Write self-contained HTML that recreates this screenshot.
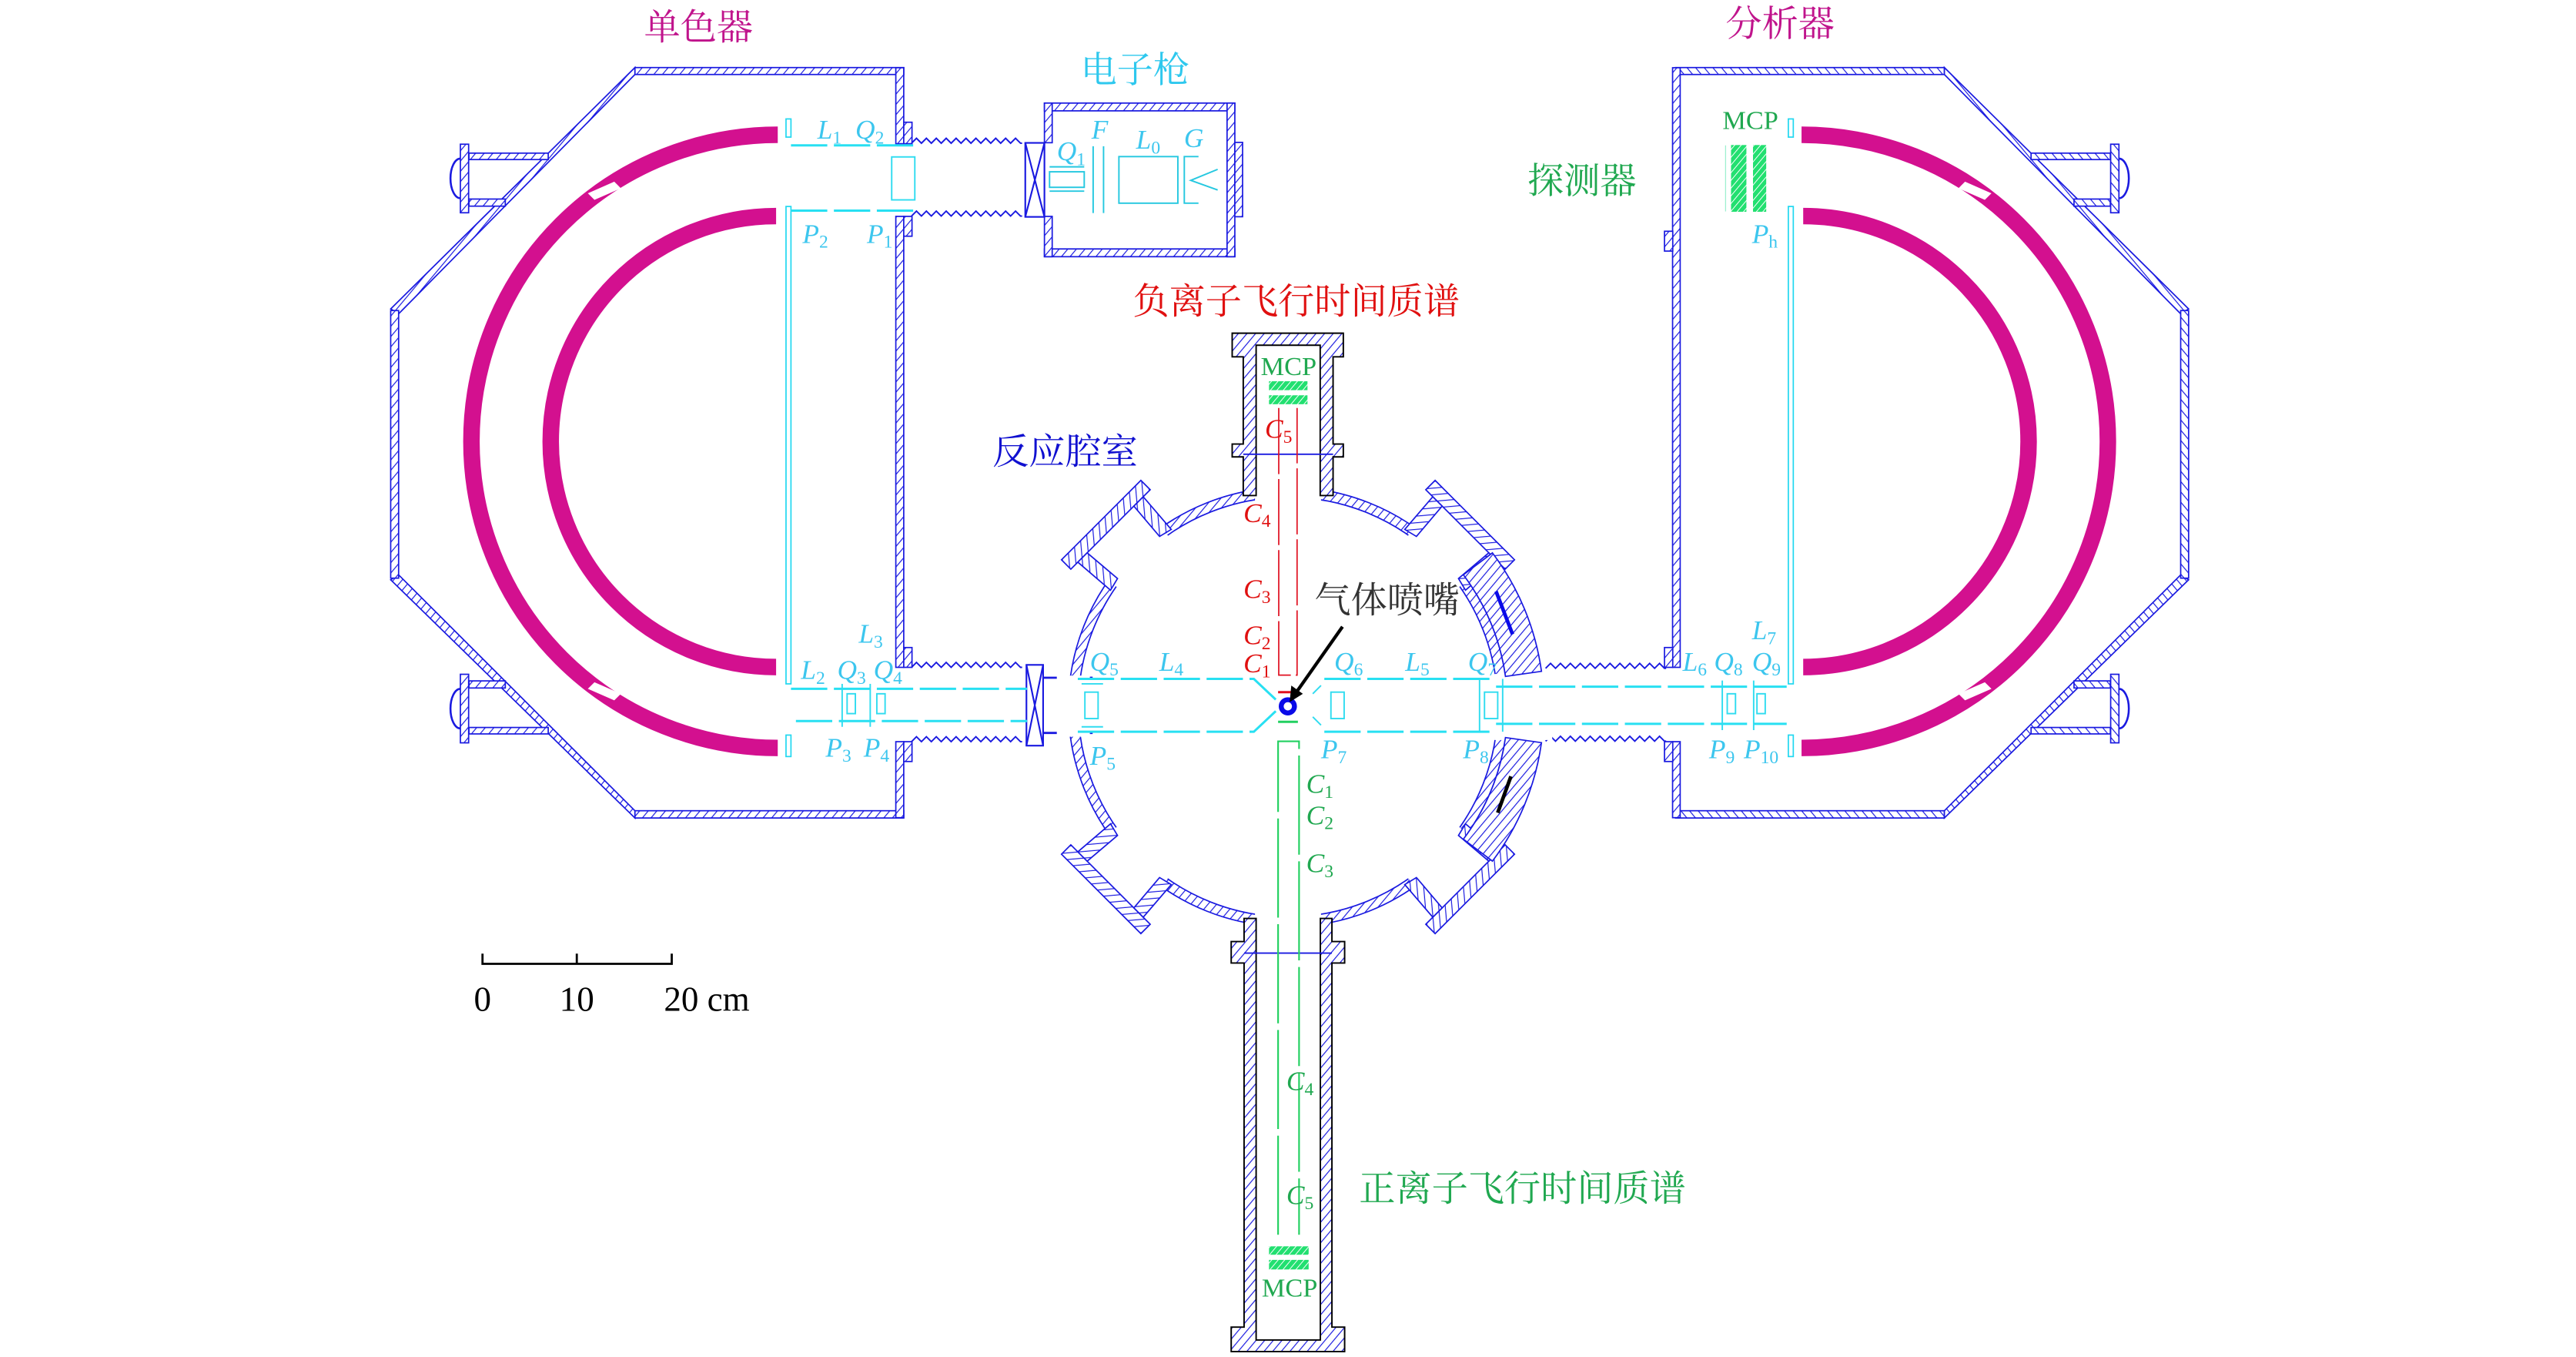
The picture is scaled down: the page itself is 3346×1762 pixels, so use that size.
<!DOCTYPE html>
<html><head><meta charset="utf-8">
<style>
html,body{margin:0;padding:0;background:#fff;width:3346px;height:1762px;overflow:hidden}
svg{display:block}
.cj{font-family:"Noto Serif CJK SC","Liberation Serif",serif}
.lb{font-family:"Liberation Serif",serif;font-style:italic;fill:#3cc6ee;font-size:16.5px}
.sb{font-style:normal;font-size:11px}
</style></head><body>
<svg width="3346" height="1762" viewBox="0 0 1560 821.5" preserveAspectRatio="none" xmlns="http://www.w3.org/2000/svg">
<defs>
<pattern id="h" patternUnits="userSpaceOnUse" width="4" height="4" patternTransform="rotate(40)">
<rect width="4" height="4" fill="#fff"/><line x1="0" y1="0" x2="0" y2="4" stroke="#1a1ae0" stroke-width="1.1"/></pattern>
<pattern id="g" patternUnits="userSpaceOnUse" width="3" height="3" patternTransform="rotate(40)">
<rect width="3" height="3" fill="#22e070"/><line x1="0" y1="0" x2="0" y2="3" stroke="#fff" stroke-width="0.9"/></pattern>
<g id="box">
 <rect x="384.5" y="40.9" width="162.8" height="4.2" fill="url(#h)" stroke="#1a1ae0" stroke-width="0.8"/>
 <rect x="384.5" y="490.8" width="162.8" height="4.4" fill="url(#h)" stroke="#1a1ae0" stroke-width="0.8"/>
 <polygon points="236.6,187 384.5,40.9 384.5,45.1 241.4,190 " fill="url(#h)" stroke="#1a1ae0" stroke-width="0.8"/>
 <polygon points="236.6,351 384.5,495.2 384.5,490.8 241.4,348" fill="url(#h)" stroke="#1a1ae0" stroke-width="0.8"/>
 <rect x="236.6" y="188" width="4.8" height="162" fill="url(#h)" stroke="#1a1ae0" stroke-width="0.8"/>
 <rect x="284" y="92.7" width="48" height="3.9" fill="url(#h)" stroke="#1a1ae0" stroke-width="0.8"/>
 <rect x="284" y="120.5" width="22" height="4.3" fill="url(#h)" stroke="#1a1ae0" stroke-width="0.8"/>
 <rect x="278.8" y="87.3" width="5" height="41.5" fill="url(#h)" stroke="#1a1ae0" stroke-width="0.8"/>
 <path d="M278.8,96 A6,12 0 0 0 278.8,120" fill="none" stroke="#1a1ae0" stroke-width="1.2"/>
 <rect x="284" y="440.4" width="48" height="3.9" fill="url(#h)" stroke="#1a1ae0" stroke-width="0.8"/>
 <rect x="284" y="412.2" width="22" height="4.3" fill="url(#h)" stroke="#1a1ae0" stroke-width="0.8"/>
 <rect x="278.8" y="408.2" width="5" height="41.5" fill="url(#h)" stroke="#1a1ae0" stroke-width="0.8"/>
 <path d="M278.8,417 A6,12 0 0 0 278.8,441" fill="none" stroke="#1a1ae0" stroke-width="1.2"/>
 <path d="M471,81.6 A185.6,185.6 0 0 0 471,452.8" fill="none" stroke="#d3108f" stroke-width="10"/>
 <path d="M470,130.8 A136.5,136.5 0 0 0 470,403.8" fill="none" stroke="#d3108f" stroke-width="10"/>
 <polygon points="356,117 372,110 376,114 360,121" fill="#fff"/>
 <polygon points="356,417 372,424 376,420 360,413" fill="#fff"/>
 <rect x="476" y="72" width="3" height="11" fill="none" stroke="#22d8f0" stroke-width="0.8"/>
 <rect x="476" y="125" width="3" height="289" fill="none" stroke="#22d8f0" stroke-width="0.8"/>
 <rect x="476" y="445" width="3" height="13" fill="none" stroke="#22d8f0" stroke-width="0.8"/>
</g>
<g id="bump">
 <rect x="758" y="285" width="44" height="20" fill="#fff"/>
 <rect x="746" y="268" width="68" height="8" fill="url(#h)" stroke="#1a1ae0" stroke-width="0.8"/>
 <polygon points="752,276 760,276 762,300 754,302" fill="url(#h)" stroke="#1a1ae0" stroke-width="0.8"/>
 <polygon points="800,276 808,276 806,302 798,300" fill="url(#h)" stroke="#1a1ae0" stroke-width="0.8"/>
</g>
</defs>

<use href="#box"/>
<g fill="url(#h)" stroke="#1a1ae0" stroke-width="0.8">
 <rect x="542.5" y="41" width="4.8" height="46"/><rect x="547.3" y="74" width="5" height="13"/>
 <rect x="542.5" y="131" width="4.8" height="273"/><rect x="547.3" y="131" width="5" height="12"/>
 <rect x="547.3" y="392" width="5" height="12"/>
 <rect x="542.5" y="449" width="4.8" height="46"/><rect x="547.3" y="449" width="5" height="12"/>
</g>
<g transform="translate(1562,0) scale(-1,1)"><use href="#box"/></g>
<g fill="url(#h)" stroke="#1a1ae0" stroke-width="0.8">
 <rect x="1012.9" y="41" width="4.6" height="363"/><rect x="1008" y="140" width="5" height="12"/>
 <rect x="1008" y="392" width="5" height="12"/>
 <rect x="1012.9" y="449" width="4.6" height="46"/><rect x="1008" y="449" width="5" height="12"/>
</g>
<rect x="1048.3" y="87.8" width="9.3" height="40.4" fill="url(#g)"/>
<rect x="1061.6" y="87.8" width="8" height="40.4" fill="url(#g)"/>
<line x1="1045" y1="88" x2="1045" y2="128" stroke="#9ef0d0" stroke-width="0.6"/>

<g fill="url(#h)" stroke="#1a1ae0" stroke-width="0.8">
 <rect x="632.5" y="62.4" width="115.3" height="4.7"/>
 <rect x="632.5" y="150.7" width="115.3" height="4.7"/>
 <rect x="632.5" y="62.4" width="4.7" height="24"/>
 <rect x="632.5" y="131" width="4.7" height="24.4"/>
 <rect x="743.1" y="62.4" width="4.7" height="93"/>
 <rect x="747.8" y="86.2" width="4.7" height="45"/>
</g>
<g fill="none" stroke="#1a1ae0" stroke-width="1">
 <rect x="620.9" y="86.5" width="11.6" height="44.8"/>
 <path d="M620.9,86.5 L632.5,131.3 M632.5,86.5 L620.9,131.3"/>
 <rect x="621.6" y="402.5" width="10.1" height="48.9"/>
 <path d="M621.6,402.5 L631.7,451.4 M631.7,402.5 L621.6,451.4"/>
</g>
<g fill="none" stroke="#26c8e0" stroke-width="0.9">
 <rect x="635.6" y="104" width="21" height="9.4"/>
 <line x1="635.6" y1="101" x2="656.6" y2="101"/><line x1="635.6" y1="115.7" x2="656.6" y2="115.7"/>
 <line x1="662" y1="88.5" x2="662" y2="129"/><line x1="668.3" y1="88.5" x2="668.3" y2="129"/>
 <rect x="677.6" y="94.8" width="35.7" height="28.2"/>
 <path d="M725.8,94.8 H717.2 V123 H725.8 M737.4,102.5 L721.1,109.2 L737.4,115"/>
</g>
<g fill="none" stroke="#1a1ae0" stroke-width="0.9">
<path d="M552,86.7 l3,-3 3,3 3,-3 3,3 3,-3 3,3 3,-3 3,3 3,-3 3,3 3,-3 3,3 3,-3 3,3 3,-3 3,3 3,-3 3,3 3,-3 3,3 3,-3 3,3 h1"/>
<path d="M552,130.8 l3,-3 3,3 3,-3 3,3 3,-3 3,3 3,-3 3,3 3,-3 3,3 3,-3 3,3 3,-3 3,3 3,-3 3,3 3,-3 3,3 3,-3 3,3 3,-3 3,3 h1"/>
<path d="M552,404 l3,-3 3,3 3,-3 3,3 3,-3 3,3 3,-3 3,3 3,-3 3,3 3,-3 3,3 3,-3 3,3 3,-3 3,3 3,-3 3,3 3,-3 3,3 3,-3 3,3 h1"/>
<path d="M552,449 l3,-3 3,3 3,-3 3,3 3,-3 3,3 3,-3 3,3 3,-3 3,3 3,-3 3,3 3,-3 3,3 3,-3 3,3 3,-3 3,3 3,-3 3,3 3,-3 3,3 h1"/>
<path d="M936,404.6 l3,-3 3,3 3,-3 3,3 3,-3 3,3 3,-3 3,3 3,-3 3,3 3,-3 3,3 3,-3 3,3 3,-3 3,3 3,-3 3,3 3,-3 3,3 3,-3 3,3 3,-3 3,3 h1"/>
<path d="M936,448.7 l3,-3 3,3 3,-3 3,3 3,-3 3,3 3,-3 3,3 3,-3 3,3 3,-3 3,3 3,-3 3,3 3,-3 3,3 3,-3 3,3 3,-3 3,3 3,-3 3,3 3,-3 3,3 h1"/>
 <path d="M631.7,410.3 H661.7 M631.7,443.7 H661.7" stroke-width="1.3"/>
</g>

<path fill-rule="evenodd" fill="url(#h)" stroke="#1a1ae0" stroke-width="0.8"
 d="M647,428 a133,133 0 1,0 266,0 a133,133 0 1,0 -266,0 Z M653,428 a127,127 0 1,0 254,0 a127,127 0 1,0 -254,0 Z"/>
<rect x="760" y="290" width="40" height="16" fill="#fff"/>
<rect x="760" y="550" width="40" height="16" fill="#fff"/>
<rect x="640" y="409" width="20" height="37" fill="#fff"/>
<g transform="rotate(-45 780 428)"><use href="#bump"/></g>
<g transform="rotate(45 780 428)"><use href="#bump"/></g>
<g transform="rotate(135 780 428)"><use href="#bump"/></g>
<g transform="rotate(-135 780 428)"><use href="#bump"/></g>
<rect x="905" y="408" width="35" height="40" fill="#fff"/>
<path d="M886.2,348 A133,133 0 0 1 911.7,409.5 L933.5,406.4 A155,155 0 0 0 903.8,334.7 Z" fill="url(#h)" stroke="#1a1ae0" stroke-width="0.8"/>
<path d="M886.2,508 A133,133 0 0 0 911.7,446.5 L933.5,449.6 A155,155 0 0 1 903.8,521.3 Z" fill="url(#h)" stroke="#1a1ae0" stroke-width="0.8"/>
<path d="M906,358 L916,384" stroke="#0a0ae8" stroke-width="2.2"/>
<path d="M915,470 L907,492" stroke="#000" stroke-width="2.2"/>

<g fill="url(#h)" stroke="#000" stroke-width="0.9">
 <path d="M746.2,201.7 H813.5 V216 H807.3 V268.8 H813.5 V276.6 H807.3 V300 H799.5 V209 H760.7 V300 H752.9 V276.6 H746.2 V268.8 H752.9 V216 H746.2 Z"/>
 <path d="M745.6,818.2 H814.3 V803.4 H806.6 V583 H814.3 V570 H806.6 V556 H799.6 V811.2 H760.7 V556 H753.4 V570 H745.6 V583 H753.4 V803.4 H745.6 Z"/>
</g>
<line x1="752.9" y1="275" x2="807.3" y2="275" stroke="#1a1ae0" stroke-width="0.9"/>
<line x1="753.4" y1="577" x2="806.6" y2="577" stroke="#1a1ae0" stroke-width="0.9"/>
<rect x="768.5" y="230.8" width="23.3" height="5.4" fill="url(#g)"/>
<rect x="768.5" y="239.3" width="23.3" height="5.4" fill="url(#g)"/>
<rect x="768.5" y="754.5" width="24" height="5.1" fill="url(#g)"/>
<rect x="768.5" y="762.7" width="24" height="5.8" fill="url(#g)"/>
<path d="M774.4,247 V408.7 H785.5 V247" fill="none" stroke="#e01020" stroke-width="0.8" stroke-dasharray="40,3"/>
<path d="M774,747.5 V448.8 H786.7 V747.5" fill="none" stroke="#22d060" stroke-width="1" stroke-dasharray="60,4"/>

<g fill="none" stroke="#28e0f2" stroke-width="1.4" stroke-dasharray="22,4">
 <path d="M479,88 H556 M479,127.5 H556"/>
 <path d="M479,417 H622 M482,436.5 H622"/>
 <path d="M652.7,411 H759.3 L772.6,423.5 M652.7,443 H759.3 L772.6,430.5"/>
 <path d="M802,411 H906 M802,443 H906"/>
 <path d="M906,415.7 H1082 M906,438.2 H1082"/>
</g>
<g fill="none" stroke="#30dcf0" stroke-width="0.9">
 <rect x="540" y="95" width="14" height="26"/>
 <rect x="657" y="419" width="8" height="16"/><line x1="655" y1="414" x2="668" y2="414"/><line x1="655" y1="440" x2="668" y2="440"/>
 <rect x="806" y="419" width="8" height="16"/><path d="M800,415 L795,420 M800,439 L795,434"/>
 <rect x="899" y="419" width="8" height="16"/><line x1="896" y1="411" x2="896" y2="443"/><line x1="910" y1="411" x2="910" y2="443"/>
 <rect x="513" y="420" width="5" height="12"/><rect x="531" y="420" width="5" height="12"/>
 <line x1="510" y1="414" x2="510" y2="440"/><line x1="527" y1="414" x2="527" y2="440"/>
 <rect x="1046" y="420" width="5" height="12"/><rect x="1064" y="420" width="5" height="12"/>
 <line x1="1043" y1="412" x2="1043" y2="442"/><line x1="1062" y1="412" x2="1062" y2="442"/>
</g>
<path d="M774,419 H786" stroke="#e01020" stroke-width="1.4"/>
<path d="M774,437 H786" stroke="#22d060" stroke-width="1.4"/>
<circle cx="779.9" cy="427.6" r="4" fill="none" stroke="#0a0ae8" stroke-width="3"/>
<path d="M813,379.4 L783,422" stroke="#000" stroke-width="2"/>
<polygon points="781,425 782,415 789,420" fill="#000"/>

<path d="M292.2,577.3 V583.5 H406.8 V577.3 M349.3,577.3 V583.5" fill="none" stroke="#000" stroke-width="1.3"/>
<g font-family="Liberation Serif,serif" font-size="21" fill="#000" text-anchor="middle">
<text x="292.2" y="612">0</text><text x="349.3" y="612">10</text><text x="428" y="612">20 cm</text></g>

<g class="cj" font-size="22" text-anchor="middle">
<text x="423" y="24" fill="#c0148c">单色器</text>
<text x="1078" y="22" fill="#c0148c">分析器</text>
<text x="687.4" y="50" fill="#2ec8ee">电子枪</text>
<text x="958" y="117" fill="#20a850">探测器</text>
<text x="785" y="190" fill="#e01010">负离子飞行时间质谱</text>
<text x="645" y="281" fill="#1010d0">反应腔室</text>
<text x="840" y="371" fill="#333">气体喷嘴</text>
<text x="922" y="727" fill="#20a850">正离子飞行时间质谱</text>
</g>
<g font-family="Liberation Serif,serif" font-size="16" text-anchor="middle" fill="#20a850">
<text x="1060" y="78">MCP</text><text x="780.4" y="227">MCP</text><text x="781" y="785">MCP</text>
</g>

<g class="lb">
<text x="495" y="84">L<tspan class="sb" dy="3">1</tspan></text>
<text x="518" y="84">Q<tspan class="sb" dy="3">2</tspan></text>
<text x="486" y="147">P<tspan class="sb" dy="3">2</tspan></text>
<text x="525" y="147">P<tspan class="sb" dy="3">1</tspan></text>
<text x="520" y="389">L<tspan class="sb" dy="3">3</tspan></text>
<text x="485" y="411">L<tspan class="sb" dy="3">2</tspan></text>
<text x="507" y="411">Q<tspan class="sb" dy="3">3</tspan></text>
<text x="529" y="411">Q<tspan class="sb" dy="3">4</tspan></text>
<text x="500" y="458">P<tspan class="sb" dy="3">3</tspan></text>
<text x="523" y="458">P<tspan class="sb" dy="3">4</tspan></text>
<text x="640" y="97">Q<tspan class="sb" dy="3">1</tspan></text>
<text x="661" y="84">F</text>
<text x="688" y="90">L<tspan class="sb" dy="3">0</tspan></text>
<text x="717" y="89">G</text>
<text x="660" y="406">Q<tspan class="sb" dy="3">5</tspan></text>
<text x="702" y="406">L<tspan class="sb" dy="3">4</tspan></text>
<text x="660" y="463">P<tspan class="sb" dy="3">5</tspan></text>
<text x="808" y="406">Q<tspan class="sb" dy="3">6</tspan></text>
<text x="851" y="406">L<tspan class="sb" dy="3">5</tspan></text>
<text x="889" y="406">Q<tspan class="sb" dy="3">7</tspan></text>
<text x="800" y="459">P<tspan class="sb" dy="3">7</tspan></text>
<text x="886" y="459">P<tspan class="sb" dy="3">8</tspan></text>
<text x="1061" y="387">L<tspan class="sb" dy="3">7</tspan></text>
<text x="1019" y="406">L<tspan class="sb" dy="3">6</tspan></text>
<text x="1038" y="406">Q<tspan class="sb" dy="3">8</tspan></text>
<text x="1061" y="406">Q<tspan class="sb" dy="3">9</tspan></text>
<text x="1035" y="459">P<tspan class="sb" dy="3">9</tspan></text>
<text x="1056" y="459">P<tspan class="sb" dy="3">10</tspan></text>
<text x="1061" y="147">P<tspan class="sb" dy="3">h</tspan></text>
</g>
<g class="lb" style="fill:#e01010">
<text x="766" y="265">C<tspan class="sb" dy="3">5</tspan></text>
<text x="753" y="316">C<tspan class="sb" dy="3">4</tspan></text>
<text x="753" y="362">C<tspan class="sb" dy="3">3</tspan></text>
<text x="753" y="390">C<tspan class="sb" dy="3">2</tspan></text>
<text x="753" y="407">C<tspan class="sb" dy="3">1</tspan></text>
</g>
<g class="lb" style="fill:#20a850">
<text x="791" y="480">C<tspan class="sb" dy="3">1</tspan></text>
<text x="791" y="499">C<tspan class="sb" dy="3">2</tspan></text>
<text x="791" y="528">C<tspan class="sb" dy="3">3</tspan></text>
<text x="779" y="660">C<tspan class="sb" dy="3">4</tspan></text>
<text x="779" y="729">C<tspan class="sb" dy="3">5</tspan></text>
</g>
</svg>
</body></html>
